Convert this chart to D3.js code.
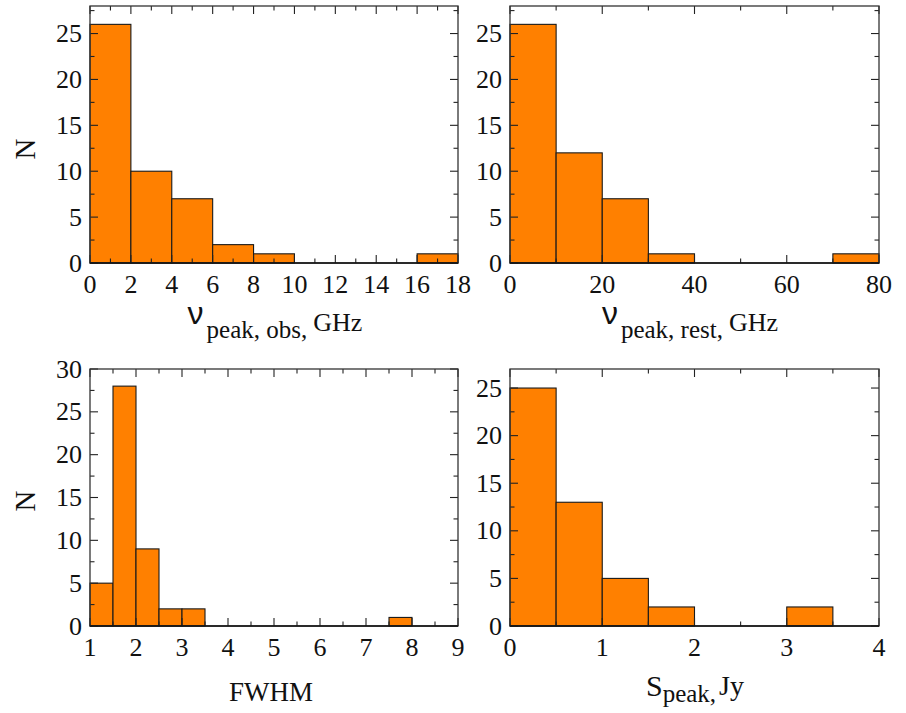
<!DOCTYPE html>
<html><head><meta charset="utf-8">
<script src="https://cdn.jsdelivr.net/npm/d3@7"></script>
<style>body{margin:0;background:#fff}svg{display:block}</style>
</head><body>
<script>
// Panel 1: nu_peak,obs (GHz), bin width 2
const obsBinStart = [0,2,4,6,8,10,12,14,16];
const obsCounts   = [26,10,7,2,1,0,0,0,1];
const obsXTicks   = [0,2,4,6,8,10,12,14,16,18];
// Panel 2: nu_peak,rest (GHz), bin width 10
const restBinStart = [0,10,20,30,40,50,60,70];
const restCounts   = [26,12,7,1,0,0,0,1];
const restXTicks   = [0,20,40,60,80];
// Panel 3: FWHM, bin width 0.5
const fwhmBinStart = [1,1.5,2,2.5,3,3.5,4,4.5,5,5.5,6,6.5,7,7.5,8,8.5];
const fwhmCounts   = [5,28,9,2,2,0,0,0,0,0,0,0,0,1,0,0];
const fwhmXTicks   = [1,2,3,4,5,6,7,8,9];
// Panel 4: S_peak (Jy), bin width 0.5
const speakBinStart = [0,0.5,1,1.5,2,2.5,3,3.5];
const speakCounts   = [25,13,5,2,0,0,2,0];
const speakXTicks   = [0,1,2,3,4];
const yTicks25 = [0,5,10,15,20,25];
const yTicks30 = [0,5,10,15,20,25,30];

const W = 906, H = 713;
const SERIF = '"Liberation Serif"';
const SANS = '"Liberation Sans"';
const svg = d3.select("body").append("svg").attr("width", W).attr("height", H);

const panels = [
  {x0:90, x1:458, y0:6, y1:263, xd:[0,18], yd:[0,28], bins:obsBinStart, counts:obsCounts, bw:2,
   xt:obsXTicks, xminor:1, yt:yTicks25, yminor:2.5, ylab:true, nY:149},
  {x0:510, x1:879, y0:6, y1:263, xd:[0,80], yd:[0,28], bins:restBinStart, counts:restCounts, bw:10,
   xt:restXTicks, xminor:10, yt:yTicks25, yminor:2.5, ylab:false},
  {x0:90, x1:458, y0:369, y1:626, xd:[1,9], yd:[0,30], bins:fwhmBinStart, counts:fwhmCounts, bw:0.5,
   xt:fwhmXTicks, xminor:0.5, yt:yTicks30, yminor:2.5, ylab:true, nY:501},
  {x0:510, x1:879, y0:369, y1:626, xd:[0,4], yd:[0,27], bins:speakBinStart, counts:speakCounts, bw:0.5,
   xt:speakXTicks, xminor:0.5, yt:yTicks25, yminor:2.5, ylab:false}
];

panels.forEach(p => {
  const x = d3.scaleLinear().domain(p.xd).range([p.x0, p.x1]);
  const y = d3.scaleLinear().domain(p.yd).range([p.y1, p.y0]);
  const g = svg.append("g");
  g.selectAll("rect.bar").data(p.bins.map((b,i)=>({b, c:p.counts[i]})).filter(d=>d.c>0))
    .join("rect").attr("class","bar")
    .attr("x", d => x(d.b)).attr("width", d => x(d.b + p.bw) - x(d.b))
    .attr("y", d => y(d.c)).attr("height", d => y(0) - y(d.c))
    .attr("fill", "#FF8000").attr("stroke", "#1a1a1a").attr("stroke-width", 1.1);

  const xMinor = d3.range(p.xd[0], p.xd[1] + 1e-9, p.xminor).filter(v => !p.xt.some(t => Math.abs(t - v) < 1e-9));
  const yMinor = d3.range(p.yd[0], p.yd[1] + 1e-9, p.yminor).filter(v => !p.yt.some(t => Math.abs(t - v) < 1e-9));
  const ticks = g.append("g").attr("stroke", "#222").attr("stroke-width", 1.1);
  [[p.xt, 8], [xMinor, 4.5]].forEach(([vals, len]) => {
    vals.forEach(v => {
      ticks.append("line").attr("x1", x(v)).attr("x2", x(v)).attr("y1", p.y1).attr("y2", p.y1 - len);
      ticks.append("line").attr("x1", x(v)).attr("x2", x(v)).attr("y1", p.y0).attr("y2", p.y0 + len);
    });
  });
  [[p.yt, 8], [yMinor, 4.5]].forEach(([vals, len]) => {
    vals.forEach(v => {
      ticks.append("line").attr("y1", y(v)).attr("y2", y(v)).attr("x1", p.x0).attr("x2", p.x0 + len);
      ticks.append("line").attr("y1", y(v)).attr("y2", y(v)).attr("x1", p.x1).attr("x2", p.x1 - len);
    });
  });
  g.append("rect").attr("x", p.x0).attr("y", p.y0).attr("width", p.x1 - p.x0).attr("height", p.y1 - p.y0)
    .attr("fill", "none").attr("stroke", "#333").attr("stroke-width", 1.3);
  g.append("line").attr("x1", p.x0).attr("x2", p.x1).attr("y1", p.y1).attr("y2", p.y1)
    .attr("stroke", "#111").attr("stroke-width", 1.5);

  g.selectAll("text.xt").data(p.xt).join("text").attr("class","xt")
    .attr("x", d => x(d)).attr("y", p.y1 + 30)
    .attr("text-anchor", "middle").style("font-family", SERIF).style("font-size", "26px").attr("fill", "#111")
    .text(d => d);
  g.selectAll("text.yt").data(p.yt).join("text").attr("class","yt")
    .attr("x", p.x0 - 8).attr("y", d => y(d)).attr("dy", "0.33em")
    .attr("text-anchor", "end").style("font-family", SERIF).style("font-size", "26px").attr("fill", "#111")
    .text(d => d);
  if (p.ylab) {
    svg.append("text").attr("transform", `translate(35,${p.nY}) rotate(-90)`)
      .attr("text-anchor", "middle").style("font-family", SERIF).style("font-size", "29px").attr("fill", "#111")
      .text("N");
  }
});

function nuLabel(cx, base, sub) {
  const t = svg.append("text").attr("x", cx).attr("y", base).attr("text-anchor", "middle").attr("fill", "#111");
  t.append("tspan").style("font-family", SANS).style("font-size", "32px").text("ν");
  t.append("tspan").style("font-family", SERIF).style("font-size", "25px").attr("dx", 3).attr("dy", 14).text(sub);
  t.append("tspan").style("font-family", SERIF).style("font-size", "26px").attr("dx", 6).attr("dy", -7).text("GHz");
}
nuLabel(275, 324, "peak, obs,");
nuLabel(690, 324, "peak, rest,");

svg.append("text").attr("x", 271).attr("y", 701).attr("text-anchor", "middle")
  .style("font-family", SERIF).style("font-size", "27px").attr("fill", "#111").text("FWHM");

(function(){
  const t = svg.append("text").attr("x", 695).attr("y", 696).attr("text-anchor", "middle").attr("fill", "#111");
  t.append("tspan").style("font-family", SERIF).style("font-size", "30px").text("S");
  t.append("tspan").style("font-family", SERIF).style("font-size", "25px").attr("dy", 6).text("peak,");
  t.append("tspan").style("font-family", SERIF).style("font-size", "28px").attr("dx", 3).attr("dy", -7).text("Jy");
})();
</script>
</body></html>
